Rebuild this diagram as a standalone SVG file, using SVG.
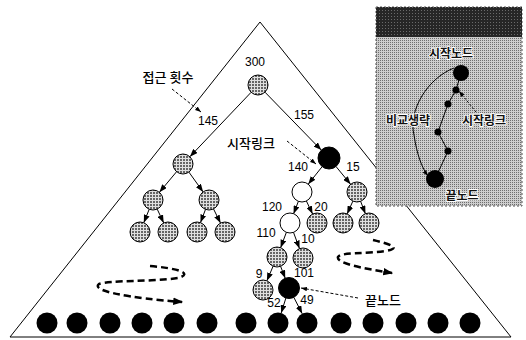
<svg xmlns="http://www.w3.org/2000/svg" width="526" height="340" viewBox="0 0 526 340">
<defs>
<pattern id="hatch" width="3" height="3" patternUnits="userSpaceOnUse">
<rect width="3" height="3" fill="#e0e0e0"/>
<rect width="2" height="2" fill="#666"/>
</pattern>
<pattern id="stip" width="2" height="2" patternUnits="userSpaceOnUse">
<rect width="2" height="2" fill="#cdcdcd"/>
<rect width="1" height="1" fill="#6e6e6e"/>
</pattern>
<pattern id="dark" width="3" height="3" patternUnits="userSpaceOnUse">
<rect width="3" height="3" fill="#262626"/>
<rect x="1" y="1" width="1" height="1" fill="#6a6a6a"/>
</pattern>
<marker id="ah" viewBox="0 0 8 6" markerWidth="8" markerHeight="6" refX="8" refY="3" orient="auto" markerUnits="userSpaceOnUse">
<path d="M0,0 L8,3 L0,6 z" fill="#000"/>
</marker>
<marker id="ahs" viewBox="0 0 8 6" markerWidth="6" markerHeight="5" refX="8" refY="3" orient="auto" markerUnits="userSpaceOnUse">
<path d="M0,0 L8,3 L0,6 z" fill="#000"/>
</marker>
<marker id="ahb" viewBox="0 0 8 6" markerWidth="10" markerHeight="8" refX="7" refY="3" orient="auto" markerUnits="userSpaceOnUse">
<path d="M0,0 L8,3 L0,6 z" fill="#000"/>
</marker>
</defs>
<style>
.n{stroke:#000;stroke-width:1}
.g{fill:url(#hatch)}
.b{fill:#000}
.w{fill:#fff}
.e{stroke:#000;stroke-width:1;fill:none;marker-end:url(#ah)}
.t{font-family:"Liberation Sans",Arial,sans-serif;font-size:12px;fill:#000;text-anchor:middle}
.k{font-family:"Noto Sans CJK KR",sans-serif;font-size:13px;font-weight:500;fill:#000;text-anchor:middle}
.ki{font-family:"Noto Sans CJK KR",sans-serif;font-size:12px;font-weight:bold;fill:#111;text-anchor:middle;stroke:#fff;stroke-width:1.8;paint-order:stroke}
.d{stroke:#000;stroke-width:1;fill:none;stroke-dasharray:3 2;marker-end:url(#ahs)}
.c{stroke:#000;stroke-width:2.5;fill:none;stroke-dasharray:7 4;marker-end:url(#ahb)}
</style>

<g id="triangle">
<path d="M10,337 L260,22 L511,337 Z" fill="#fff" stroke="#000" stroke-width="1"/>
</g>

<g id="connectors">
<line class="e" x1="251.1" y1="92.3" x2="189.9" y2="156.7"/>
<line class="e" x1="265" y1="92.2" x2="321.3" y2="150.1"/>
<line class="e" x1="176.6" y1="171.7" x2="159.4" y2="192.3"/>
<line class="e" x1="188.9" y1="172.1" x2="203.1" y2="191.9"/>
<line class="e" x1="149.2" y1="209.3" x2="143.8" y2="222.7"/>
<line class="e" x1="157.2" y1="209.1" x2="163.7" y2="222.9"/>
<line class="e" x1="205.5" y1="209.4" x2="200.5" y2="222.6"/>
<line class="e" x1="213.5" y1="208.9" x2="220.5" y2="223.1"/>
<line class="e" x1="322.2" y1="166.6" x2="308.2" y2="184.2"/>
<line class="e" x1="336" y1="166.5" x2="350.6" y2="184.3"/>
<line class="e" x1="298.4" y1="201.3" x2="293.6" y2="213.7"/>
<line class="e" x1="306.4" y1="201" x2="312.6" y2="214"/>
<line class="e" x1="352.9" y1="201.1" x2="347.1" y2="213.9"/>
<line class="e" x1="360.6" y1="201.3" x2="365.4" y2="213.7"/>
<line class="e" x1="286.4" y1="232.3" x2="280.6" y2="247.7"/>
<line class="e" x1="293.5" y1="232.4" x2="299.5" y2="248.6"/>
<line class="e" x1="273.1" y1="266.2" x2="266.9" y2="280.8"/>
<line class="e" x1="280.6" y1="266.3" x2="285.2" y2="278.2"/>
<line class="e" x1="285.9" y1="298" x2="281.2" y2="313"/>
<line class="e" x1="293.8" y1="297.3" x2="302.2" y2="313.7"/>
<line class="d" x1="172" y1="89" x2="201" y2="112"/>
<line class="d" x1="287" y1="141" x2="316" y2="164"/>
<line class="d" x1="358" y1="298" x2="301" y2="288" stroke-dasharray="2 2"/>
<path class="c" d="M150,266 C175,268 195,273 178,278 C150,282 110,280 99,284 C90,291 130,298 182,302"/>
<path class="c" d="M373,240 C390,244 402,248 386,251 C366,254 341,252 338,257 C336,263 360,268 392,273"/>
</g>

<g id="n300"><circle class="n g" cx="258" cy="85" r="10"/></g>
<g id="nL"><circle class="n g" cx="183" cy="164" r="10"/></g>
<g id="nL1"><circle class="n g" cx="153" cy="200" r="10"/></g>
<g id="nL2"><circle class="n g" cx="209" cy="200" r="10"/></g>
<g id="nL11"><circle class="n g" cx="140" cy="232" r="10"/></g>
<g id="nL12"><circle class="n g" cx="168" cy="232" r="10"/></g>
<g id="nL21"><circle class="n g" cx="197" cy="232" r="10"/></g>
<g id="nL22"><circle class="n g" cx="225" cy="232" r="10"/></g>
<g id="nStart"><circle class="n b" cx="329" cy="158" r="11"/></g>
<g id="nW1"><circle class="n w" cx="302" cy="192" r="10"/></g>
<g id="nG15"><circle class="n g" cx="357" cy="192" r="10"/></g>
<g id="nW2"><circle class="n w" cx="290" cy="223" r="10"/></g>
<g id="nG20"><circle class="n g" cx="317" cy="223" r="10"/></g>
<g id="nG151"><circle class="n g" cx="343" cy="223" r="10"/></g>
<g id="nG152"><circle class="n g" cx="369" cy="223" r="10"/></g>
<g id="nG110"><circle class="n g" cx="277" cy="257" r="10"/></g>
<g id="nG10"><circle class="n g" cx="303" cy="258" r="10"/></g>
<g id="nG9"><circle class="n g" cx="263" cy="290" r="10"/></g>
<g id="nEnd"><circle class="n b" cx="289" cy="288" r="10.5"/></g>

<g id="leaves" fill="#000">
<circle cx="47" cy="323" r="10.5"/><circle cx="77" cy="323" r="10.5"/><circle cx="110" cy="323" r="10.5"/>
<circle cx="142" cy="323" r="10.5"/><circle cx="174" cy="323" r="10.5"/><circle cx="207" cy="323" r="10.5"/>
<circle cx="246" cy="323" r="10.5"/><circle cx="278" cy="323" r="10.5"/><circle cx="307" cy="323" r="10.5"/>
<circle cx="341" cy="323" r="10.5"/><circle cx="373" cy="323" r="10.5"/><circle cx="406" cy="323" r="10.5"/>
<circle cx="438" cy="323" r="10.5"/><circle cx="470" cy="323" r="10.5"/>
</g>

<g id="labels">
<text class="t" x="255" y="66">300</text>
<text class="t" x="208" y="125">145</text>
<text class="t" x="304" y="119">155</text>
<text class="t" x="298" y="171">140</text>
<text class="t" x="353" y="171">15</text>
<text class="t" x="272" y="211">120</text>
<text class="t" x="321" y="211">20</text>
<text class="t" x="266" y="237">110</text>
<text class="t" x="308" y="243">10</text>
<text class="t" x="304" y="277">101</text>
<text class="t" x="259" y="278">9</text>
<text class="t" x="274" y="307">52</text>
<text class="t" x="307" y="304">49</text>
<text class="k" x="168" y="82">접근 횟수</text>
<text class="k" x="251" y="148">시작링크</text>
<text class="k" x="383" y="305">끝노드</text>
</g>

<g id="inset">
<rect x="376" y="7" width="146" height="199" fill="url(#stip)" stroke="#555" stroke-width="1" stroke-dasharray="2 2"/>
<rect x="376" y="7" width="146" height="30" fill="url(#dark)"/>
<path d="M454,68 C428,78 408,110 414,135 C417,155 422,168 428,176" fill="none" stroke="#000" stroke-width="1" marker-end="url(#ahs)"/>
<polyline points="461,73 456,90 448,104 438,132 448,151 435,179" fill="none" stroke="#000" stroke-width="1"/>
<line x1="476" y1="112" x2="459" y2="91" stroke="#000" stroke-width="1" stroke-dasharray="2 2" marker-end="url(#ahs)"/>
<circle cx="461" cy="73" r="8" fill="#000"/>
<circle cx="456" cy="90" r="3.5" fill="#000"/>
<circle cx="448" cy="104" r="3.5" fill="#000"/>
<circle cx="438" cy="132" r="3.5" fill="#000"/>
<circle cx="448" cy="151" r="3.5" fill="#000"/>
<circle cx="435" cy="179" r="9" fill="#000"/>
<text class="ki" x="451" y="58">시작노드</text>
<text class="ki" x="408" y="125">비교생략</text>
<text class="ki" x="484" y="125">시작링크</text>
<text class="ki" x="462" y="200">끝노드</text>
</g>
</svg>
